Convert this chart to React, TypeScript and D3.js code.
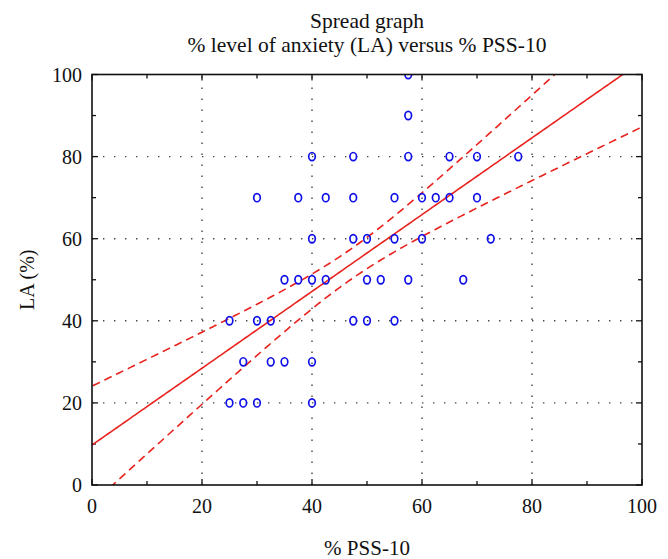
import React from "react";
import * as d3 from "d3";

// Scatter data: % PSS-10 (x) vs % level of anxiety LA (y)
const pssValues = [
  25, 27.5, 30, 40,
  27.5, 32.5, 35, 40,
  25, 30, 32.5, 47.5, 50, 55,
  35, 37.5, 40, 42.5, 50, 52.5, 57.5, 67.5,
  40, 47.5, 50, 55, 60, 72.5,
  30, 37.5, 42.5, 47.5, 55, 60, 62.5, 65, 70,
  40, 47.5, 57.5, 65, 70, 77.5,
  57.5,
  57.5,
];
const laValues = [
  20, 20, 20, 20,
  30, 30, 30, 30,
  40, 40, 40, 40, 40, 40,
  50, 50, 50, 50, 50, 50, 50, 50,
  60, 60, 60, 60, 60, 60,
  70, 70, 70, 70, 70, 70, 70, 70, 70,
  80, 80, 80, 80, 80, 80,
  90,
  100,
];

// Fitted regression line [intercept, slope] and confidence band [s0, k, xMean]
const fitCoef = [9.74, 0.9354];
const bandParams = [3.7, 0.295, 47];

const xTicks = [0, 20, 40, 60, 80, 100];
const yTicks = [0, 20, 40, 60, 80, 100];
const minorTicks = [10, 30, 50, 70, 90];
const gridTicks = [20, 40, 60, 80];

const titleLines = ["Spread graph", "% level of anxiety (LA) versus % PSS-10"];
const xLabel = "% PSS-10";
const yLabel = "LA (%)";

const W = 668;
const H = 559;
const FONT = "'Liberation Serif', 'Times New Roman', serif";

export default function App() {
  const left = 92,
    right = 642,
    top = 74.5,
    bottom = 485;
  const x = d3.scaleLinear().domain([0, 100]).range([left, right]);
  const y = d3.scaleLinear().domain([0, 100]).range([bottom, top]);

  const fit = (v: number) => fitCoef[0] + fitCoef[1] * v;
  const half = (v: number) =>
    Math.sqrt(bandParams[0] ** 2 + (bandParams[1] * (v - bandParams[2])) ** 2);

  const xs = d3.range(-2, 102.01, 0.5);
  const line = d3
    .line<number[]>()
    .x((d) => x(d[0]))
    .y((d) => y(d[1]));
  const fitPath = line(xs.map((v) => [v, fit(v)])) || "";
  const upperPath = line(xs.map((v) => [v, fit(v) + half(v)])) || "";
  const lowerPath = line(xs.map((v) => [v, fit(v) - half(v)])) || "";

  const red = "#e8231e";
  const blue = "#1010e8";

  return (
    <svg
      width={W}
      height={H}
      style={{ position: "absolute", left: 0, top: 0, background: "#fff" }}
      fontFamily={FONT}
    >
      <defs>
        <clipPath id="plotclip">
          <rect x={left} y={top} width={right - left} height={bottom - top} />
        </clipPath>
      </defs>
      <rect x={0} y={0} width={W} height={H} fill="#fff" />

      {/* title */}
      <text x={367} y={28} textAnchor="middle" fontSize={21.5} fill="#111">
        {titleLines[0]}
      </text>
      <text x={367} y={52} textAnchor="middle" fontSize={21.5} fill="#111">
        {titleLines[1]}
      </text>

      {/* grid */}
      <g stroke="#444" strokeWidth={1.4} strokeDasharray="1.4 9.6">
        {gridTicks.map((t) => (
          <line key={"gx" + t} x1={x(t)} x2={x(t)} y1={bottom} y2={top} />
        ))}
        {gridTicks.map((t) => (
          <line key={"gy" + t} x1={left} x2={right} y1={y(t)} y2={y(t)} />
        ))}
      </g>

      {/* ticks on all sides, inward */}
      <g stroke="#111" strokeWidth={1.3}>
        {xTicks.concat(minorTicks).map((t) => {
          const len = minorTicks.includes(t) ? 4 : 6;
          return (
            <g key={"xt" + t}>
              <line x1={x(t)} x2={x(t)} y1={bottom} y2={bottom - len} />
              <line x1={x(t)} x2={x(t)} y1={top} y2={top + len} />
            </g>
          );
        })}
        {yTicks.concat(minorTicks).map((t) => {
          const len = minorTicks.includes(t) ? 4 : 6;
          return (
            <g key={"yt" + t}>
              <line x1={left} x2={left + len} y1={y(t)} y2={y(t)} />
              <line x1={right} x2={right - len} y1={y(t)} y2={y(t)} />
            </g>
          );
        })}
      </g>

      {/* regression line and band */}
      <g clipPath="url(#plotclip)" fill="none" stroke={red} strokeWidth={1.6}>
        <path d={fitPath} />
        <path d={upperPath} strokeDasharray="8 5" />
        <path d={lowerPath} strokeDasharray="8 5" />
      </g>

      {/* points */}
      <g clipPath="url(#plotclip)" fill="none" stroke={blue} strokeWidth={1.7}>
        {pssValues.map((v, i) => (
          <ellipse key={"p" + i} cx={x(v)} cy={y(laValues[i])} rx={3.3} ry={4.1} />
        ))}
      </g>

      {/* axis box */}
      <rect
        x={left}
        y={top}
        width={right - left}
        height={bottom - top}
        fill="none"
        stroke="#111"
        strokeWidth={1.6}
      />

      {/* tick labels */}
      <g fontSize={20} fill="#111">
        {xTicks.map((t) => (
          <text key={"xl" + t} x={x(t)} y={513} textAnchor="middle">
            {t}
          </text>
        ))}
        {yTicks.map((t) => (
          <text key={"yl" + t} x={left - 10} y={y(t) + 7} textAnchor="end">
            {t}
          </text>
        ))}
      </g>

      {/* axis labels */}
      <text x={367} y={555} textAnchor="middle" fontSize={21} fill="#111">
        {xLabel}
      </text>
      <text
        transform={`translate(34, ${(top + bottom) / 2}) rotate(-90)`}
        textAnchor="middle"
        fontSize={20}
        fill="#111"
      >
        {yLabel}
      </text>
    </svg>
  );
}
